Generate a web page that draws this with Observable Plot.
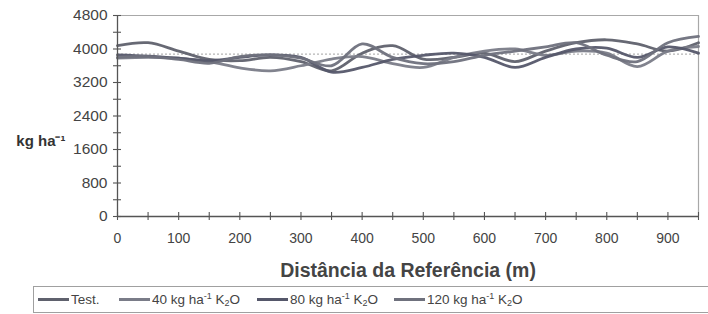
<!DOCTYPE html>
<html>
<head>
<meta charset="utf-8">
<script src="https://cdn.jsdelivr.net/npm/d3@7"></script>
<script src="https://cdn.jsdelivr.net/npm/@observablehq/plot@0.6"></script>
<style>
  html, body { margin: 0; padding: 0; background: #fff; overflow: hidden; }
  body { width: 708px; height: 314px; position: relative; font-family: "Liberation Sans", Arial, sans-serif; }
  #chart svg { display: block; }
  #legend { position: absolute; left: 33px; top: 286px; width: 720px; height: 27px; border: 1px solid #a0a0a0; box-sizing: border-box; }
  .item { position: absolute; top: 4px; font-size: 13.5px; line-height: 18px; color: #444; white-space: nowrap; }
  .sw { display: inline-block; width: 31px; height: 2.5px; margin-right: 2px; vertical-align: middle; position: relative; top: -1px; }
  .item sup, .item sub { font-size: 9px; line-height: 0; }
  .item sup { vertical-align: 5px; }
  .item sub { vertical-align: -2px; }
</style>
</head>
<body>
<div id="chart"></div>
<div id="legend"></div>
<script>
// ---- data ----
const distance = [0, 50, 100, 150, 200, 250, 300, 350, 400, 450, 500, 550, 600, 650, 700, 750, 800, 850, 900, 950];
const test   = [4080, 4150, 3950, 3750, 3720, 3800, 3700, 3480, 3900, 4080, 3760, 3800, 3900, 3700, 3950, 4150, 4220, 4120, 3950, 4150];
const k40    = [3780, 3800, 3780, 3700, 3550, 3480, 3600, 3760, 3820, 3650, 3560, 3800, 3950, 4000, 3850, 3950, 3900, 3580, 3950, 4060];
const k80    = [3860, 3830, 3780, 3720, 3800, 3860, 3800, 3450, 3560, 3750, 3850, 3900, 3800, 3560, 3800, 4000, 4020, 3800, 4050, 3900];
const k120   = [3800, 3820, 3750, 3660, 3820, 3860, 3780, 3600, 4120, 3800, 3650, 3700, 3850, 3950, 4050, 4150, 3850, 3700, 4150, 4300];
const seriesNames = ["Test.", "40 kg ha<sup>-1</sup> K<sub>2</sub>O", "80 kg ha<sup>-1</sup> K<sub>2</sub>O", "120 kg ha<sup>-1</sup> K<sub>2</sub>O"];
const seriesKeys = ["Test", "K40", "K80", "K120"];
const refLine = [3880];
const yTickLabels = [0, 800, 1600, 2400, 3200, 4000, 4800];
const yMinorTicks = [0, 400, 800, 1200, 1600, 2000, 2400, 2800, 3200, 3600, 4000, 4400, 4800];
const xTickLabels = [0, 100, 200, 300, 400, 500, 600, 700, 800, 900];
const xMinorTicks = [0, 50, 100, 150, 200, 250, 300, 350, 400, 450, 500, 550, 600, 650, 700, 750, 800, 850, 900, 950];
const yTitle = "kg ha\u207B\u00B9";
const xTitle = "Distância da Referência (m)";

// ---- styles ----
const colors = ["#5f616d", "#7a7c88", "#55576a", "#6f717d"];

const rows = [];
[test, k40, k80, k120].forEach((arr, s) => {
  arr.forEach((v, i) => rows.push({ series: seriesKeys[s], d: distance[i], v }));
});

const lineMarks = seriesKeys.map((k, s) =>
  Plot.line(rows.filter(r => r.series === k), {
    x: "d", y: "v", stroke: colors[s], strokeWidth: 2.8, curve: "catmull-rom", strokeOpacity: 0.95
  })
);

const chart = Plot.plot({
  width: 708,
  height: 285,
  marginLeft: 117,
  marginRight: 10,
  marginTop: 15,
  marginBottom: 69,
  style: { fontFamily: "Liberation Sans, Arial, sans-serif", background: "#fff", color: "#444" },
  x: { domain: [0, 950] },
  y: { domain: [0, 4800] },
  marks: [
    Plot.ruleY([4800], { stroke: "#a8a8a8", strokeWidth: 1.2 }),
    Plot.ruleX([950], { stroke: "#a8a8a8", strokeWidth: 1.2 }),
    Plot.ruleY(refLine, { x1: 0, x2: 950, stroke: "#b5b5b5", strokeWidth: 1.2, strokeDasharray: "2,2" }),
    ...lineMarks,
    Plot.ruleX([0], { stroke: "#555", strokeWidth: 1.3 }),
    Plot.ruleY([0], { stroke: "#555", strokeWidth: 1.3 }),
    Plot.ruleY(yMinorTicks, { y: d => d, x1: 0, x2: 0, insetLeft: -4, insetRight: -4, stroke: "#555", strokeWidth: 1.1 }),
    Plot.ruleX(xMinorTicks, { x: d => d, y1: 0, y2: 0, insetTop: -4, insetBottom: -4, stroke: "#555", strokeWidth: 1.1 }),
    Plot.axisY(yTickLabels, { tickSize: 0, tickPadding: 10, fontSize: 15.5, fill: "#444", label: null, tickFormat: d => String(d) }),
    Plot.axisX(xTickLabels, { tickSize: 0, tickPadding: 17, fontSize: 14, fill: "#444", label: null, tickFormat: d => String(d) }),
    Plot.text([xTitle], { frameAnchor: "bottom", dy: 54, fontSize: 19.5, fontWeight: "bold", fill: "#444", lineAnchor: "middle" }),
    Plot.text([yTitle], { frameAnchor: "left", dx: -52, dy: 25, fontSize: 15, fontWeight: "bold", fill: "#333", textAnchor: "end", lineAnchor: "middle" })
  ]
});
document.getElementById("chart").appendChild(chart);

// ---- legend ----
const legendLefts = [4, 85, 223, 360];
const legend = document.getElementById("legend");
seriesNames.forEach((name, s) => {
  const it = document.createElement("div");
  it.className = "item";
  it.style.left = legendLefts[s] + "px";
  it.innerHTML = `<span class="sw" style="background:${colors[s]}"></span>${name}`;
  legend.appendChild(it);
});
</script>
</body>
</html>
